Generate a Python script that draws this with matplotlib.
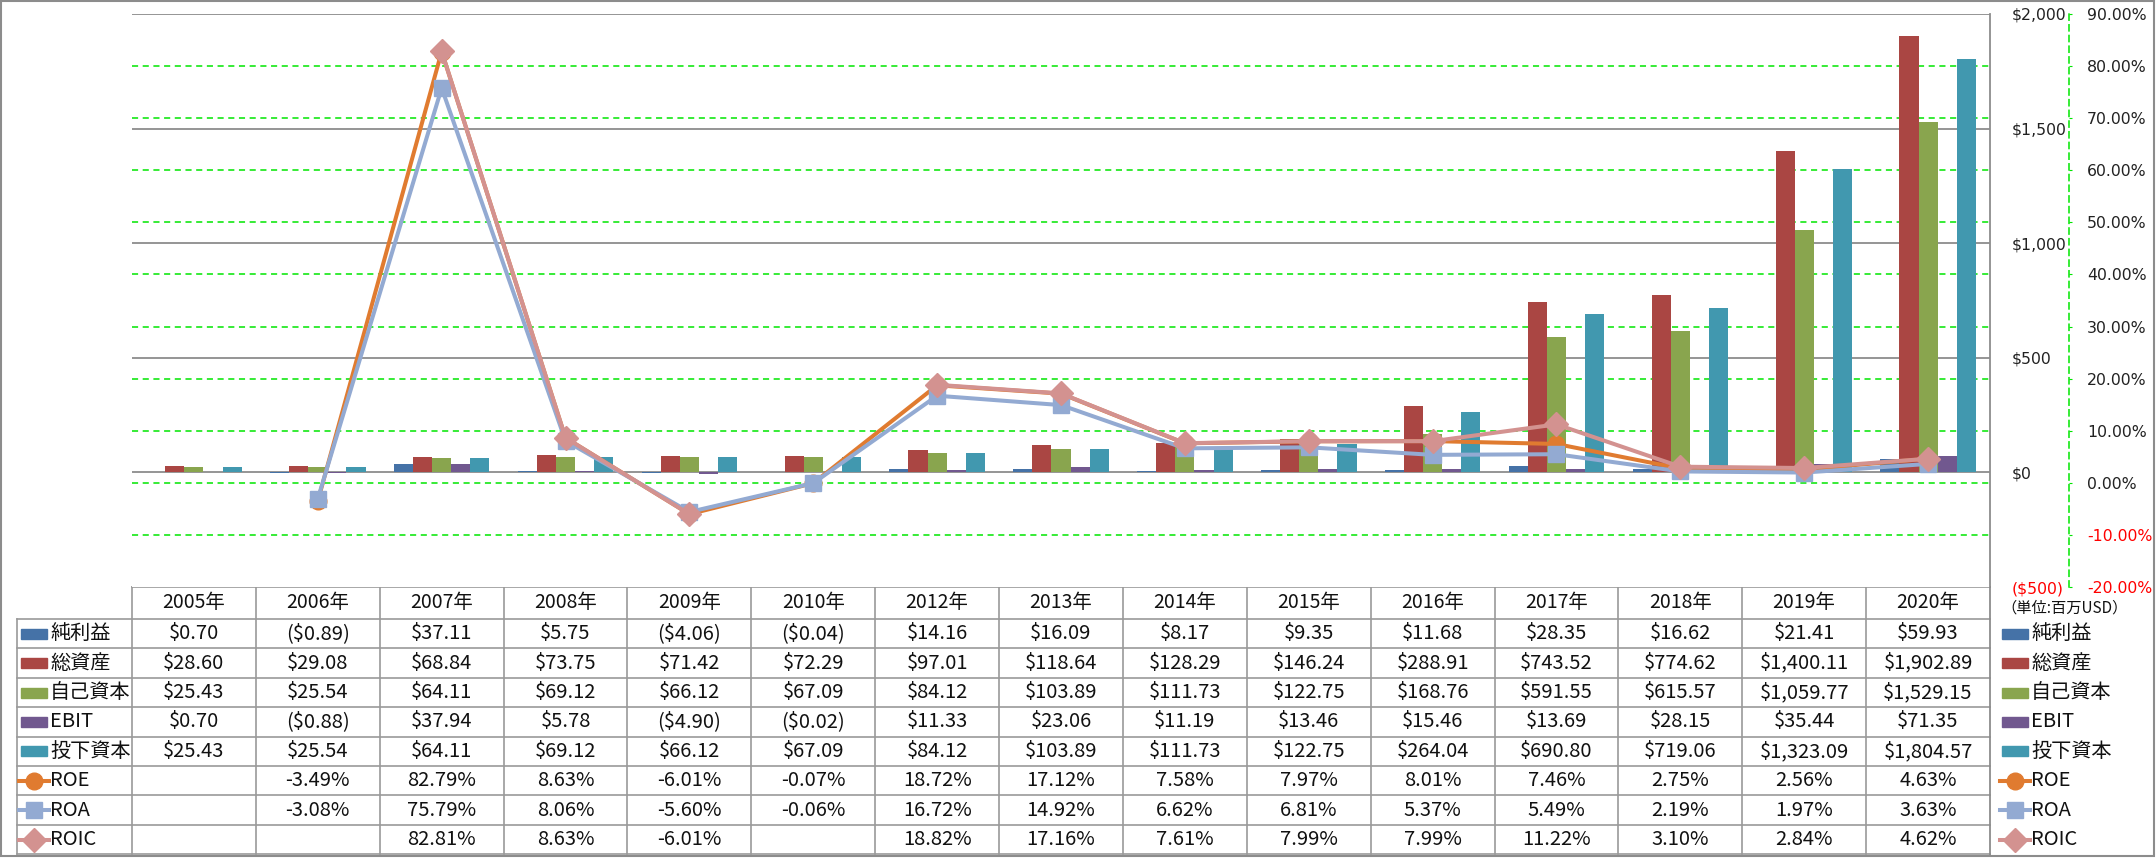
# Excel-style combo chart: bars ($) + ratio lines (%) with a data table underneath
import numpy as np
import matplotlib.pyplot as plt
from matplotlib.patches import Rectangle

# the data
years = ["2005年", "2006年", "2007年", "2008年", "2009年", "2010年", "2012年", "2013年",
         "2014年", "2015年", "2016年", "2017年", "2018年", "2019年", "2020年"]

net_income = [0.70, -0.89, 37.11, 5.75, -4.06, -0.04, 14.16, 16.09, 8.17, 9.35, 11.68, 28.35, 16.62, 21.41, 59.93]
total_assets = [28.60, 29.08, 68.84, 73.75, 71.42, 72.29, 97.01, 118.64, 128.29, 146.24, 288.91, 743.52, 774.62, 1400.11, 1902.89]
equity = [25.43, 25.54, 64.11, 69.12, 66.12, 67.09, 84.12, 103.89, 111.73, 122.75, 168.76, 591.55, 615.57, 1059.77, 1529.15]
ebit = [0.70, -0.88, 37.94, 5.78, -4.90, -0.02, 11.33, 23.06, 11.19, 13.46, 15.46, 13.69, 28.15, 35.44, 71.35]
invested = [25.43, 25.54, 64.11, 69.12, 66.12, 67.09, 84.12, 103.89, 111.73, 122.75, 264.04, 690.80, 719.06, 1323.09, 1804.57]

roe = [np.nan, -3.49, 82.79, 8.63, -6.01, -0.07, 18.72, 17.12, 7.58, 7.97, 8.01, 7.46, 2.75, 2.56, 4.63]
roa = [np.nan, -3.08, 75.79, 8.06, -5.60, -0.06, 16.72, 14.92, 6.62, 6.81, 5.37, 5.49, 2.19, 1.97, 3.63]
roic = [np.nan, np.nan, 82.81, 8.63, -6.01, np.nan, 18.82, 17.16, 7.61, 7.99, 7.99, 11.22, 3.10, 2.84, 4.62]

bar_names = ["純利益", "総資産", "自己資本", "EBIT", "投下資本"]
bar_series = [net_income, total_assets, equity, ebit, invested]
bar_colors = ["#4572A7", "#AA4643", "#89A54E", "#71588F", "#4198AF"]

line_names = ["ROE", "ROA", "ROIC"]
line_series = [roe, roa, roic]
line_colors = ["#E07B30", "#93AAD2", "#D39290"]
line_markers = ["o", "s", "D"]
line_msize = [12, 12, 12.5]

usd_ticks = [-500, 0, 500, 1000, 1500, 2000]
pct_ticks = list(range(-20, 100, 10))

# fonts
axis_font = ["DejaVu Sans"]
table_font = ["Noto Sans CJK JP", "DejaVu Sans"]
cjk_font = ["Noto Sans CJK JP", "DejaVu Sans"]

W, H = 2156, 858
fig = plt.figure(figsize=(W / 100, H / 100), dpi=100)

# layout in pixels
plot_l, plot_r, plot_t, plot_b = 132, 1990, 14, 587
ax = fig.add_axes([plot_l / W, 1 - plot_b / H, (plot_r - plot_l) / W, (plot_b - plot_t) / H])
ax.set_xlim(-0.5, len(years) - 0.5)
ax.set_ylim(usd_ticks[0], usd_ticks[-1])
ax2 = ax.twinx()
ax2.set_ylim(pct_ticks[0], pct_ticks[-1])


def pct_to_usd(p):
    # map a % value onto the $ axis so the green grid can sit behind the bars
    lo, hi = ax2.get_ylim()
    a, b = ax.get_ylim()
    return a + (p - lo) / (hi - lo) * (b - a)


# grid lines
green = "#00E600"
for p in pct_ticks[1:-1]:
    ax.axhline(pct_to_usd(p), color=green, lw=1.1, ls=(0, (4, 3)), zorder=1)
for v in usd_ticks[1:]:
    ax.axhline(v, color="#8C8C8C", lw=1.3, zorder=1.5)

# bars
x = np.arange(len(years))
w = 1 / 6.48
for k in range(len(bar_series)):
    ax.bar(x + (k - 2) * w, bar_series[k], w, color=bar_colors[k], zorder=3)

# lines
for k in range(len(line_series)):
    ax2.plot(x, line_series[k], color=line_colors[k], lw=2.9, marker=line_markers[k],
             ms=line_msize[k], mfc=line_colors[k], mec=line_colors[k], zorder=4 + k)

# $ axis (labels left aligned just right of the plot)
ax.set_xticks([])
ax.yaxis.tick_right()
ax.set_yticks(usd_ticks, [("($%s)" % format(-v, ",")) if v < 0 else "$" + format(v, ",") for v in usd_ticks])
ax.tick_params(axis="y", length=0, pad=15.8, labelsize=11.3)
for v, lbl in zip(usd_ticks, ax.get_yticklabels()):
    lbl.set_family(axis_font)
    lbl.set_color("#FF0000" if v < 0 else "#222222")
for s in ["left", "top", "bottom"]:
    ax.spines[s].set_visible(False)
ax.spines["right"].set_color("#8C8C8C")
ax.spines["right"].set_linewidth(1.3)

# % axis (green dashed axis line further right)
ax2.set_yticks(pct_ticks, ["%.2f%%" % v for v in pct_ticks])
ax2.spines["right"].set_position(("outward", 79 * 0.72))
ax2.spines["right"].set_color(green)
ax2.spines["right"].set_linestyle((0, (4, 3)))
ax2.spines["right"].set_linewidth(1.1)
for s in ["left", "top", "bottom"]:
    ax2.spines[s].set_visible(False)
ax2.tick_params(axis="y", direction="out", length=2.5, color=green, pad=10.5, labelsize=11.3)
for v, lbl in zip(pct_ticks, ax2.get_yticklabels()):
    lbl.set_family(axis_font)
    lbl.set_color("#FF0000" if v < 0 else "#222222")

# table + legend, drawn in pixel coordinates on a full-figure axes
tb = fig.add_axes([0, 0, 1, 1], zorder=-1)
tb.set_xlim(0, W)
tb.set_ylim(H, 0)
tb.axis("off")

gray = "#9A9A9A"
col_x = plot_l + (plot_r - plot_l) * np.arange(len(years) + 1) / len(years)
label_l = 17
head_t, head_b = plot_b, 619
row_h = 29.4
n_rows = len(bar_series) + len(line_series)
row_y = head_b + row_h * np.arange(n_rows + 1)

# table grid
tb.plot([col_x[0], col_x[-1]], [head_t, head_t], color=gray, lw=1.2)
for yy in row_y:
    tb.plot([label_l, col_x[-1]], [yy, yy], color=gray, lw=1.2)
for xx in col_x[:-1]:
    tb.plot([xx, xx], [head_t, row_y[-1]], color=gray, lw=1.2)
tb.plot([col_x[-1], col_x[-1]], [head_t, H - 2], color="#8C8C8C", lw=1.3)
tb.plot([label_l, label_l], [head_b, row_y[-1]], color=gray, lw=1.2)

# header
for i in range(len(years)):
    tb.text((col_x[i] + col_x[i + 1]) / 2, (head_t + head_b) / 2, years[i], ha="center", va="center",
            fontsize=14, family=table_font, color="#111111")


def money(v):
    return "($%s)" % format(-v, ",.2f") if v < 0 else "$" + format(v, ",.2f")


def pct(v):
    return "" if np.isnan(v) else "%.2f%%" % v


def draw_key(xl, yc, k):
    # small legend key: bar swatch or line with marker
    if k < len(bar_series):
        tb.add_patch(Rectangle((xl + 2, yc - 5), 26, 10, color=bar_colors[k]))
    else:
        j = k - len(bar_series)
        tb.plot([xl, xl + 30], [yc, yc], color=line_colors[j], lw=2.9)
        tb.plot([xl + 15], [yc], marker=line_markers[j], ms=line_msize[j], color=line_colors[j])


names = bar_names + line_names
for r in range(n_rows):
    yc = (row_y[r] + row_y[r + 1]) / 2
    if r < len(bar_series):
        cells = [money(v) for v in bar_series[r]]
    else:
        cells = [pct(v) for v in line_series[r - len(bar_series)]]
    for i in range(len(years)):
        tb.text((col_x[i] + col_x[i + 1]) / 2, yc, cells[i], ha="center", va="center",
                fontsize=14.5, family=table_font, color="#111111")
    # row label inside the table
    draw_key(label_l + 2, yc, r)
    tb.text(label_l + 33, yc, names[r], ha="left", va="center", fontsize=14.5, family=table_font, color="#111111")
    # legend at right
    draw_key(2000, yc, r)
    tb.text(2031, yc, names[r], ha="left", va="center", fontsize=14.5, family=table_font, color="#111111")

tb.text(2001, 608, "（単位:百万USD）", ha="left", va="center", fontsize=11, family=cjk_font, color="#111111")

# outer frame
tb.add_patch(Rectangle((1, 1), W - 3, H - 3, fill=False, ec="#8C8C8C", lw=1.5, clip_on=False))

fig.savefig("out.png", dpi=100)
